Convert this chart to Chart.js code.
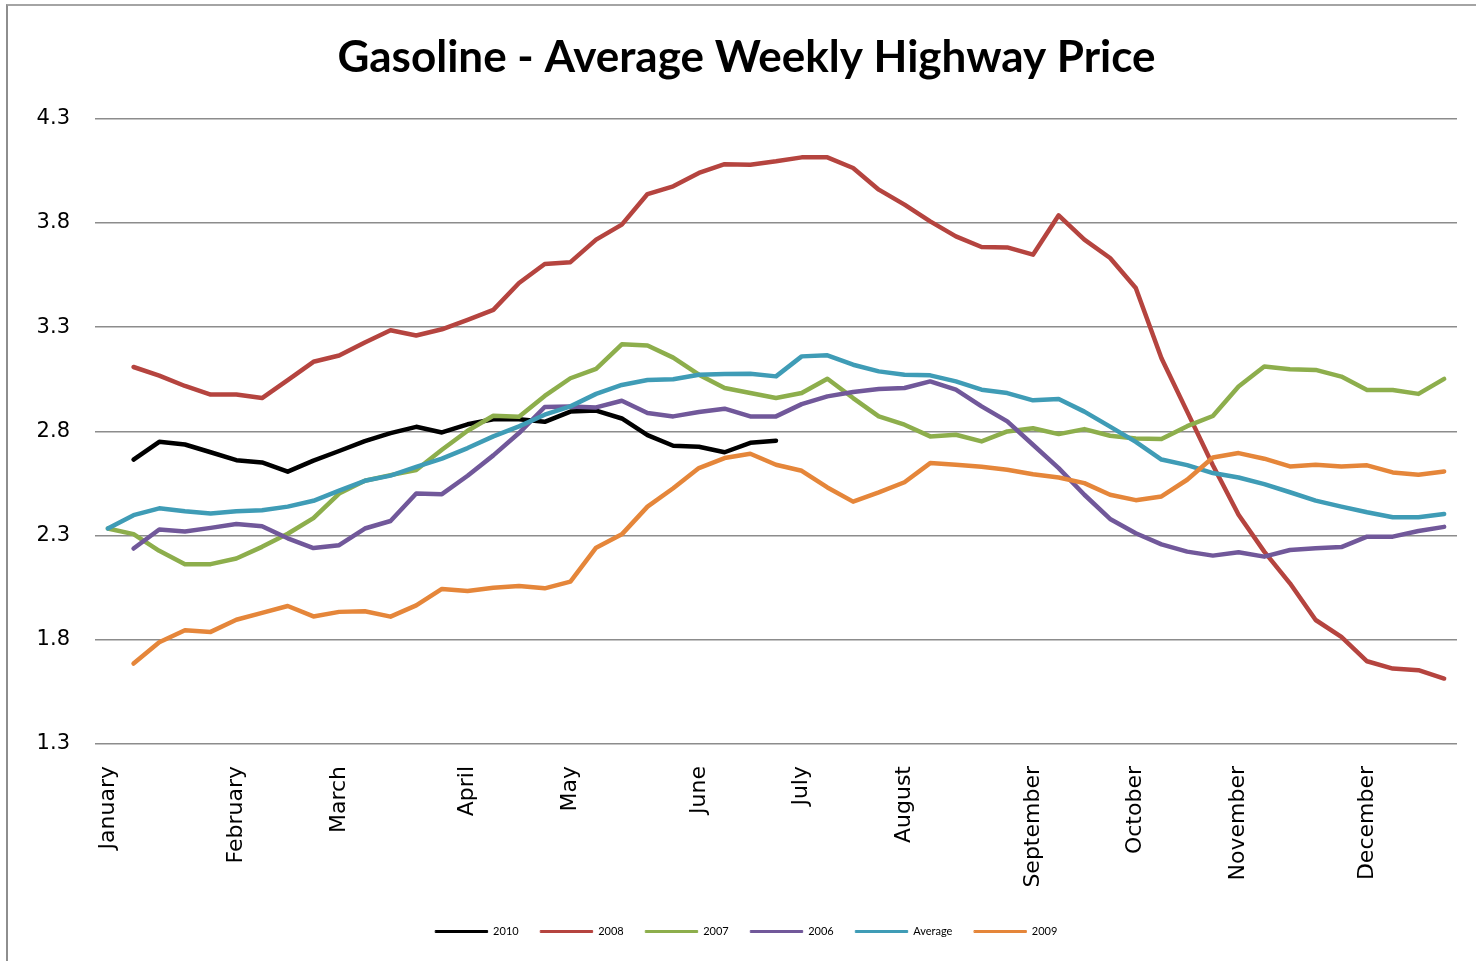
<!DOCTYPE html>
<html>
<head>
<meta charset="utf-8">
<title>Gasoline - Average Weekly Highway Price</title>
<script src="https://cdn.jsdelivr.net/npm/chart.js@4.4.1/dist/chart.umd.min.js"></script>
<style>
    html, body { margin: 0; padding: 0; background: #fff; overflow: hidden; }
    #frame {
        position: absolute; left: 6px; top: 4px; width: 1520px; height: 1000px;
        border-left: 2px solid #8e8e8e; border-top: 2px solid #a4a4a4;
        pointer-events: none;
    }
    #chart { position: absolute; left: 0; top: 0; }
</style>
</head>
<body>
<canvas id="chart" width="1500" height="961"></canvas>
<div id="frame"></div>
<script>
// Week labels: month name on the first week of each month, blank otherwise
const weekLabels = [
    'January', '', '', '', '', 'February', '', '', '', 'March', '', '', '', '',
    'April', '', '', '', 'May', '', '', '', '', 'June', '', '', '', 'July',
    '', '', '', 'August', '', '', '', '', 'September', '', '', '', 'October',
    '', '', '', 'November', '', '', '', '', 'December', '', '', ''
];

// Weekly prices ($/gal) per series
const price2010 = [
    null, 2.665, 2.75, 2.737, 2.70, 2.662, 2.651, 2.607, 2.66, 2.706, 2.753, 2.792, 2.822,
    2.795, 2.834, 2.858, 2.858, 2.846, 2.895, 2.90, 2.862, 2.782, 2.731, 2.726, 2.70, 2.745, 2.755,
    null, null, null, null, null, null, null, null, null, null, null, null, null,
    null, null, null, null, null, null, null, null, null, null, null, null, null
];
const price2008 = [
    null, 3.109, 3.068, 3.018, 2.977, 2.977, 2.96, 3.046, 3.134, 3.164, 3.227, 3.285, 3.26,
    3.29, 3.335, 3.383, 3.512, 3.603, 3.612, 3.72, 3.792, 3.939, 3.976, 4.04, 4.082, 4.08, 4.096,
    4.115, 4.115, 4.064, 3.96, 3.888, 3.808, 3.736, 3.685, 3.683, 3.648, 3.837, 3.72, 3.632,
    3.488, 3.151, 2.895, 2.638, 2.40, 2.223, 2.071, 1.895, 1.814, 1.697, 1.662, 1.654, 1.614
];
const price2007 = [
    2.334, 2.307, 2.227, 2.163, 2.163, 2.19, 2.246, 2.309, 2.384, 2.502, 2.563, 2.59, 2.615,
    2.712, 2.803, 2.875, 2.87, 2.97, 3.055, 3.10, 3.218, 3.212, 3.154, 3.072, 3.008, 2.984, 2.96,
    2.984, 3.053, 2.96, 2.872, 2.832, 2.776, 2.784, 2.752, 2.8, 2.815, 2.787, 2.811, 2.779,
    2.766, 2.763, 2.825, 2.874, 3.015, 3.111, 3.098, 3.095, 3.063, 2.999, 2.999, 2.98, 3.052
];
const price2006 = [
    null, 2.238, 2.329, 2.32, 2.337, 2.356, 2.345, 2.287, 2.24, 2.254, 2.334, 2.37, 2.502,
    2.499, 2.587, 2.685, 2.792, 2.917, 2.92, 2.915, 2.947, 2.888, 2.872, 2.893, 2.909, 2.872, 2.872,
    2.931, 2.968, 2.989, 3.003, 3.008, 3.04, 3.0, 2.92, 2.848, 2.736, 2.624, 2.496, 2.38,
    2.311, 2.258, 2.223, 2.204, 2.22, 2.199, 2.231, 2.239, 2.245, 2.295, 2.295, 2.322, 2.342
];
const priceAverage = [
    2.334, 2.398, 2.431, 2.417, 2.406, 2.417, 2.422, 2.439, 2.467, 2.516, 2.563, 2.588, 2.63,
    2.669, 2.72, 2.776, 2.824, 2.88, 2.92, 2.98, 3.023, 3.047, 3.05, 3.072, 3.076, 3.077, 3.064,
    3.16, 3.165, 3.12, 3.088, 3.072, 3.069, 3.04, 3.0, 2.984, 2.949, 2.955, 2.895, 2.823,
    2.75, 2.665, 2.638, 2.60, 2.579, 2.547, 2.508, 2.468, 2.439, 2.412, 2.388, 2.388, 2.404
];
const price2009 = [
    null, 1.686, 1.788, 1.846, 1.838, 1.896, 1.929, 1.962, 1.912, 1.934, 1.937, 1.911, 1.965,
    2.044, 2.034, 2.05, 2.058, 2.047, 2.079, 2.242, 2.306, 2.439, 2.527, 2.624, 2.672, 2.693, 2.64,
    2.611, 2.531, 2.463, 2.507, 2.556, 2.648, 2.64, 2.63, 2.616, 2.594, 2.579, 2.552, 2.496,
    2.47, 2.488, 2.568, 2.675, 2.696, 2.669, 2.632, 2.64, 2.632, 2.637, 2.603, 2.592, 2.608
];

const seriesNames = ['2010', '2008', '2007', '2006', 'Average', '2009'];
const seriesData = [price2010, price2008, price2007, price2006, priceAverage, price2009];
const seriesColors = ['#000000', '#b5443f', '#8dae4c', '#71589a', '#3f9cb6', '#e5863a'];

const yTicks = { min: 1.3, max: 4.3, step: 0.5 };

const axisFont = { family: 'DejaVu Sans', size: 21 };

// Excel draws later series on top, so give them a lower order
const datasets = seriesNames.map((name, i) => ({
    label: name,
    data: seriesData[i],
    borderColor: seriesColors[i],
    backgroundColor: seriesColors[i],
    borderWidth: 4.5,
    borderJoinStyle: 'round',
    borderCapStyle: 'round',
    pointRadius: 0,
    tension: 0,
    order: seriesNames.length - i
}));

// Thin legend samples instead of the thick dataset border
function legendLabels(chart) {
    const items = Chart.defaults.plugins.legend.labels.generateLabels(chart);
    return items.map(item => ({ ...item, lineWidth: 1 }));
}

new Chart(document.getElementById('chart'), {
    type: 'line',
    data: { labels: weekLabels, datasets: datasets },
    options: {
        responsive: false,
        animation: false,
        layout: { padding: { left: 36, right: 43, top: 0, bottom: 14 } },
        plugins: {
            title: {
                display: true,
                text: 'Gasoline - Average Weekly Highway Price',
                color: '#000',
                font: { family: 'Lato', size: 44, weight: 'bold' },
                padding: { top: 31, bottom: 35 }
            },
            legend: {
                position: 'bottom',
                labels: {
                    boxWidth: 52,
                    boxHeight: 2,
                    padding: 22,
                    color: '#000',
                    font: { family: 'Lato', size: 11 },
                    generateLabels: legendLabels,
                    sort: (a, b) => a.datasetIndex - b.datasetIndex
                }
            },
            tooltip: { enabled: false }
        },
        scales: {
            x: {
                offset: true,
                grid: { display: false },
                border: { display: false },
                ticks: {
                    autoSkip: false,
                    minRotation: 90,
                    maxRotation: 90,
                    padding: 14,
                    color: '#000',
                    font: { family: 'DejaVu Sans', size: 22 }
                },
                afterFit: (scale) => { scale.height = 160; }
            },
            y: {
                min: yTicks.min,
                max: yTicks.max,
                grid: { color: '#8c8c8c', lineWidth: 1.5, drawTicks: false },
                border: { display: false },
                ticks: {
                    stepSize: yTicks.step,
                    padding: 25,
                    color: '#000',
                    font: axisFont,
                    callback: (v) => v.toFixed(1)
                },
                afterFit: (scale) => { scale.width = 59; }
            }
        }
    }
});
</script>
</body>
</html>
